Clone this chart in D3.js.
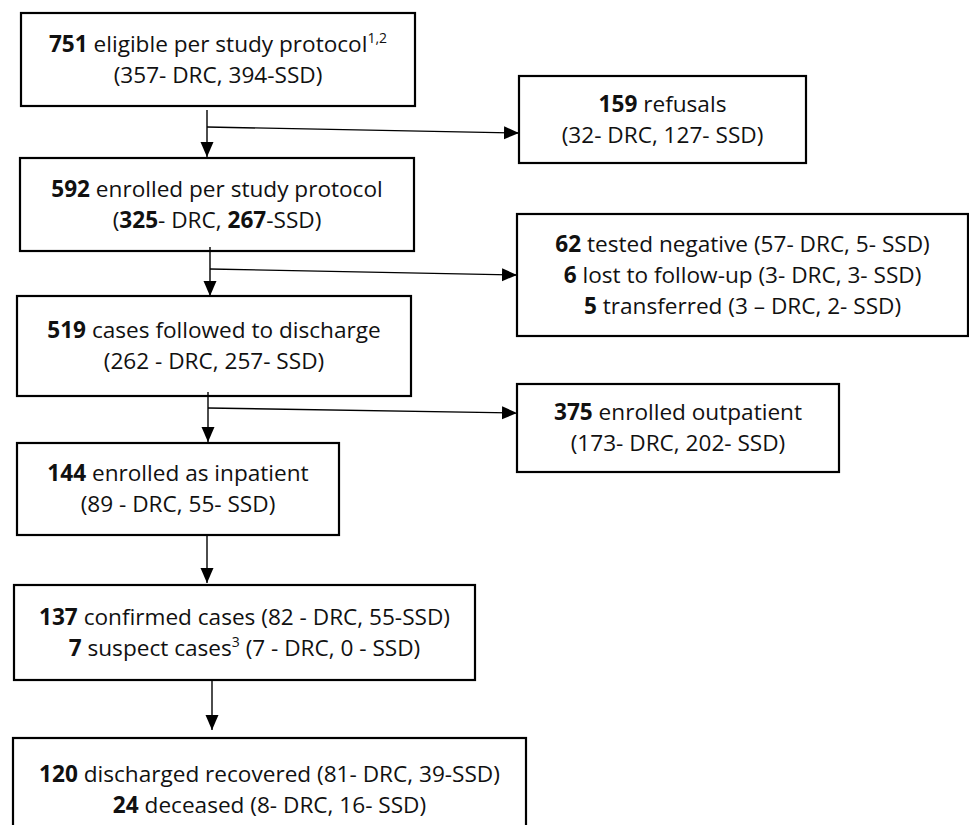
<!DOCTYPE html>
<html>
<head>
<meta charset="utf-8">
<script src="https://cdn.jsdelivr.net/npm/d3@7"></script>
<style>
  body { margin: 0; background: #fff; }
  svg { display: block; }
  .box { fill: #fff; stroke: #000; stroke-width: 2.2; }
  .link { fill: none; stroke: #000; stroke-width: 1.4; }
  .label { font-family: "Open Sans", sans-serif; font-size: 22.6px; fill: #111; }
</style>
</head>
<body>
<script>
// box text, ** = bold, ^ ^ = superscript
var boxIds = ["eligible", "refusals", "enrolled", "excluded", "followed",
              "outpatient", "inpatient", "cases", "outcome"];

var eligibleLines = ["**751** eligible per study protocol^1,2^", "(357- DRC, 394-SSD)"];
var refusalLines = ["**159** refusals", "(32- DRC, 127- SSD)"];
var enrolledLines = ["**592** enrolled per study protocol", "(**325**- DRC, **267**-SSD)"];
var excludedLines = ["**62** tested negative (57- DRC, 5- SSD)",
                     "**6** lost to follow-up (3- DRC, 3- SSD)",
                     "**5** transferred (3 \u2013 DRC, 2- SSD)"];
var followedLines = ["**519** cases followed to discharge", "(262 - DRC, 257- SSD)"];
var outpatientLines = ["**375** enrolled outpatient", "(173- DRC, 202- SSD)"];
var inpatientLines = ["**144** enrolled as inpatient", "(89 - DRC, 55- SSD)"];
var casesLines = ["**137** confirmed cases (82 - DRC, 55-SSD)",
                  "**7** suspect cases^3^ (7 - DRC, 0 - SSD)"];
var outcomeLines = ["**120** discharged recovered (81- DRC, 39-SSD)",
                    "**24** deceased (8- DRC, 16- SSD)"];

// main column flow: from -> to, plus the side box split off on the way
var flowFrom = ["eligible", "enrolled", "followed", "inpatient", "cases"];
var flowTo = ["enrolled", "followed", "inpatient", "cases", "outcome"];
var flowSide = ["refusals", "excluded", "outpatient", null, null];

var allLines = [eligibleLines, refusalLines, enrolledLines, excludedLines, followedLines,
                outpatientLines, inpatientLines, casesLines, outcomeLines];

// ---- layout (pixels) ----
var width = 969, height = 825, lineH = 31;

var boxGeom = {
    eligible:   [21, 13, 415, 106],
    refusals:   [519, 76, 806, 163],
    enrolled:   [20, 158, 414, 251],
    excluded:   [517, 214, 968, 336],
    followed:   [17, 296, 411, 396],
    outpatient: [517, 384, 839, 472],
    inpatient:  [17, 443, 339, 535],
    cases:      [14, 585, 475, 680],
    outcome:    [13, 738, 526, 842]
};
// stem x, stem start / end y, branch y at stem and at tip
var stemX = [207, 210, 208, 207, 212];
var stemY0 = [110, 247, 392, 535, 680];
var stemY1 = [157, 296, 442, 583, 730];
var branchY0 = [127, 269, 408];
var branchY1 = [133, 275, 413];

var svg = d3.select("body").append("svg")
    .attr("width", width)
    .attr("height", height);

var defs = svg.append("defs");
defs.append("marker")
    .attr("id", "head")
    .attr("markerUnits", "userSpaceOnUse")
    .attr("markerWidth", 16).attr("markerHeight", 14)
    .attr("refX", 15).attr("refY", 6.5)
    .attr("orient", "auto")
    .append("path")
    .attr("d", "M0,0L15,6.5L0,13Z")
    .attr("fill", "#000");

var boxes = boxIds.map(function(id, i) {
    var g = boxGeom[id];
    return { id: id, x0: g[0], y0: g[1], x1: g[2], y1: g[3], lines: allLines[i] };
});

svg.selectAll("rect.box")
    .data(boxes)
    .enter().append("rect")
    .attr("class", "box")
    .attr("x", function(d) { return d.x0; })
    .attr("y", function(d) { return d.y0; })
    .attr("width", function(d) { return d.x1 - d.x0; })
    .attr("height", function(d) { return d.y1 - d.y0; });

// connectors
var links = flowFrom.map(function(f, i) {
    return { i: i, from: f, to: flowTo[i], side: flowSide[i] };
});

svg.selectAll("line.stem")
    .data(links)
    .enter().append("line")
    .attr("class", "link")
    .attr("x1", function(d) { return stemX[d.i]; })
    .attr("x2", function(d) { return stemX[d.i]; })
    .attr("y1", function(d) { return stemY0[d.i]; })
    .attr("y2", function(d) { return stemY1[d.i]; })
    .attr("marker-end", "url(#head)");

svg.selectAll("line.branch")
    .data(links.filter(function(d) { return d.side; }))
    .enter().append("line")
    .attr("class", "link")
    .attr("x1", function(d) { return stemX[d.i]; })
    .attr("x2", function(d) { return boxGeom[d.side][0]; })
    .attr("y1", function(d) { return branchY0[d.i]; })
    .attr("y2", function(d) { return branchY1[d.i]; })
    .attr("marker-end", "url(#head)");

// text
function parts(s) {
    return s.split(/(\*\*[^*]+\*\*|\^[^^]+\^)/).filter(function(p) { return p.length; })
        .map(function(p) {
            if (p.indexOf("**") === 0) return { t: p.slice(2, -2), b: true };
            if (p.charAt(0) === "^") return { t: p.slice(1, -1), sup: true };
            return { t: p };
        });
}

boxes.forEach(function(b) {
    var cx = (b.x0 + b.x1) / 2, cy = (b.y0 + b.y1) / 2;
    var n = b.lines.length;
    b.lines.forEach(function(line, i) {
        var t = svg.append("text")
            .attr("class", "label")
            .attr("text-anchor", "middle")
            .attr("x", cx)
            .attr("y", cy + (i - (n - 1) / 2) * lineH + 7.5);
        var shift = 0;
        parts(line).forEach(function(p) {
            var ts = t.append("tspan").text(p.t);
            if (p.b) ts.attr("font-weight", 700);
            if (p.sup) {
                ts.attr("font-size", 14).attr("dy", -9);
                shift = 9;
            } else if (shift) {
                ts.attr("dy", shift);
                shift = 0;
            }
        });
    });
});
</script>
</body>
</html>
